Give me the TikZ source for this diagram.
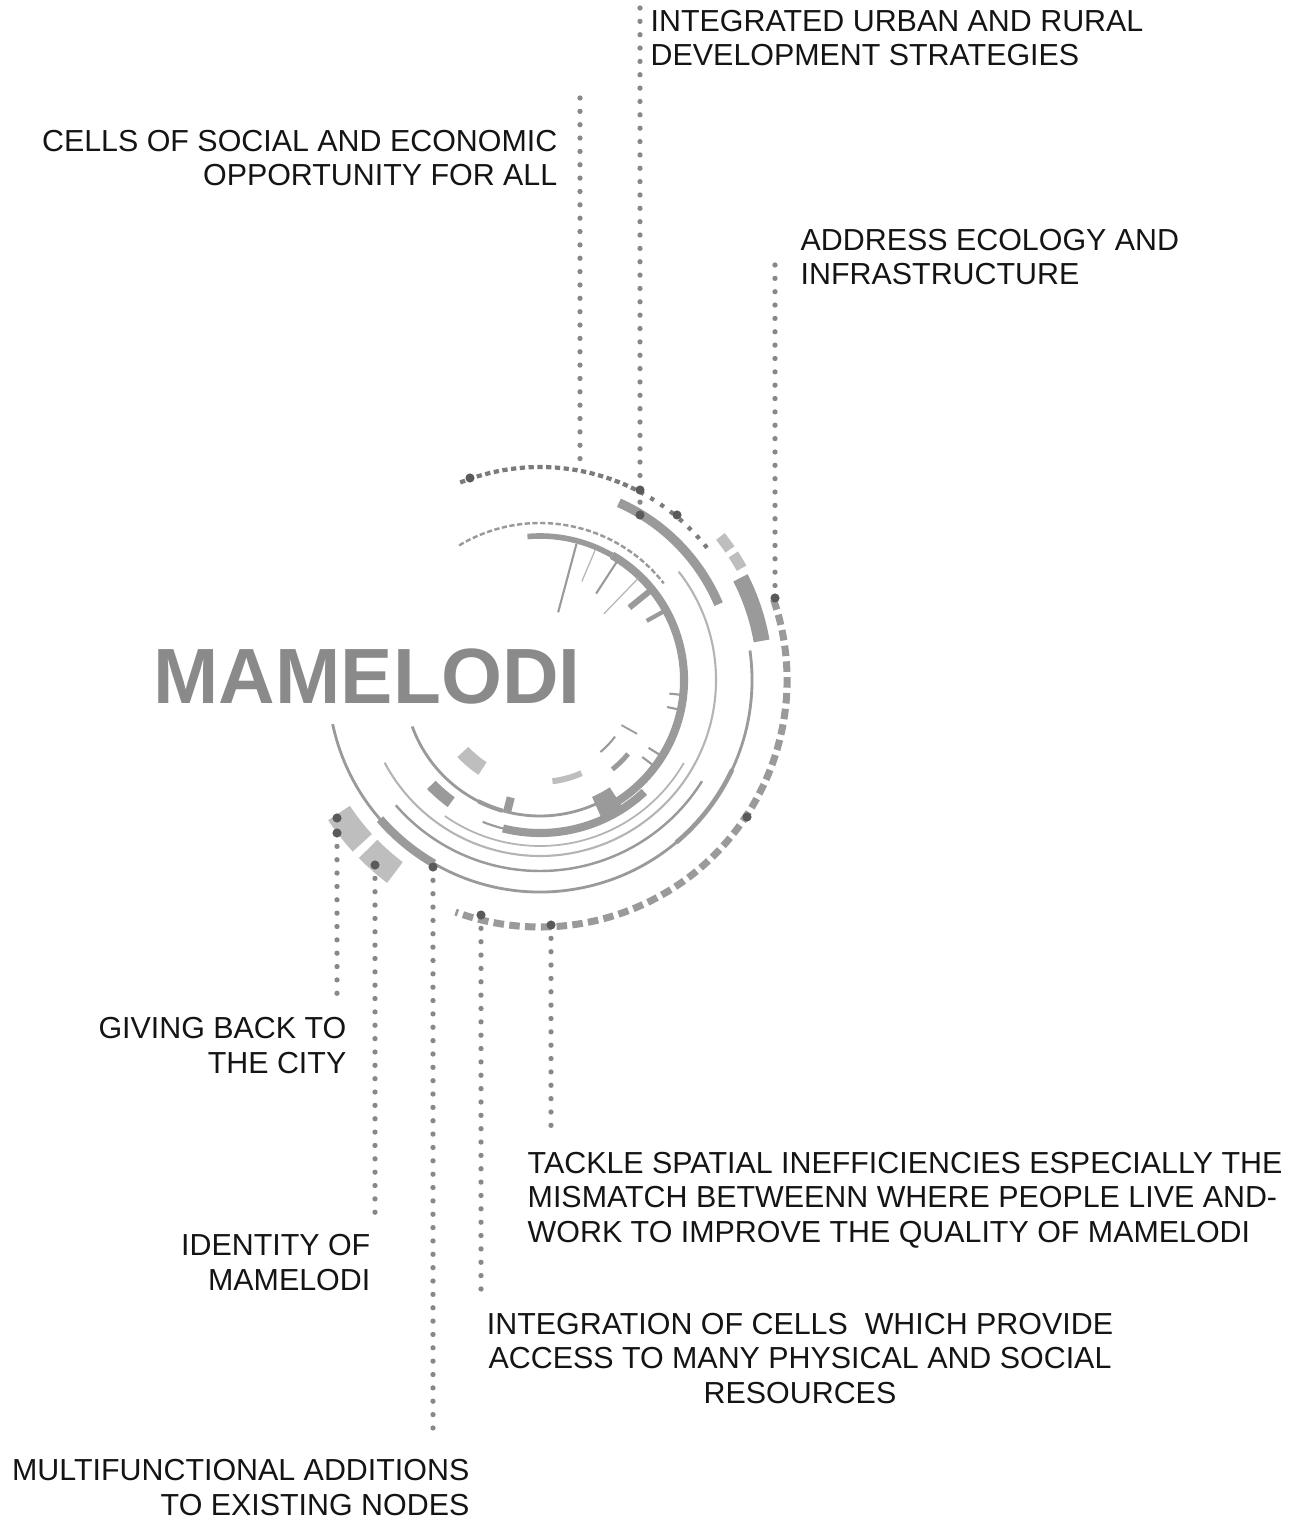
\documentclass[tikz,border=0pt]{standalone}
\usepackage{fontspec}
\setmainfont{Liberation Sans}
\usetikzlibrary{backgrounds}

\definecolor{ringgray}{HTML}{9A9A9A}
\definecolor{ringlight}{HTML}{B4B4B4}
\definecolor{blocklight}{HTML}{BEBEBE}
\definecolor{dotgray}{HTML}{888888}
\definecolor{dotdark}{HTML}{5A5A5A}
\definecolor{titlegray}{HTML}{8A8A8A}
\definecolor{textdark}{HTML}{141414}

\newcommand{\labelfont}{\fontsize{8.65}{9.7}\selectfont}
% annular block: [colour]{start angle}{end angle}{inner r}{outer r}
\newcommand{\ringblock}[5][ringgray]{%
  \fill[#1] (#2:#4) arc[start angle=#2,end angle=#3,radius=#4]
    -- (#3:#5) arc[start angle=#3,end angle=#2,radius=#5] -- cycle;}

\tikzset{
  ringthick/.style={draw=ringgray, line width=2.3pt},
  ringthin/.style={draw=ringlight, line width=0.5pt},
  leader/.style={draw=dotgray, line width=1.5pt, line cap=round, dash pattern=on 0pt off 3.8pt},
  hubdot/.style={circle, fill=dotdark, inner sep=0pt, minimum size=2.6pt},
  caption/.style={font=\labelfont, text=textdark, inner sep=0pt},
}

\begin{document}
\begin{tikzpicture}[x=0.1mm,y=0.1mm]
\useasboundingbox (0,0) rectangle (1304,-1521);

\begin{scope}[shift={(540,-680)}]
% inner ring with ticks
\draw[ringgray, line width=0.8pt] (-160:136) arc[start angle=-160,end angle=-64,radius=136];
\draw[ringgray, line width=1.2pt] (-117:136) arc[start angle=-117,end angle=-106,radius=136];
\draw[ringgray, line width=1.6pt] (95:144) arc[start angle=95,end angle=60,radius=144];
\draw[ringthick] (60:144) arc[start angle=60,end angle=-62,radius=144];
\ringblock{-66}{-57}{128}{150}
\foreach \a/\ri/\w in {75/70/0.6pt, 57/103/0.6pt, 39/115/1.7pt, 29/122/1.2pt,
    -6/130/0.6pt, -12/130/0.6pt, -32/128/0.6pt, -37/128/0.6pt}
  \draw[ringgray, line width=\w] (\a:\ri) -- (\a:141);
\foreach \a/\ri in {67/107, 46/92}
  \draw[ringlight, line width=0.35pt] (\a:\ri) -- (\a:141);
\draw[ringgray, line width=2.3pt] (-104:121) -- (-104:135);

% second ring
\draw[ringgray, line width=0.6pt] (-112:153) arc[start angle=-112,end angle=-104,radius=153];
\draw[ringthick] (-104:153) arc[start angle=-104,end angle=-47,radius=153];
\draw[ringgray, line width=0.7pt, dash pattern=on 1.5pt off 0.7pt] (121:157) arc[start angle=121,end angle=38,radius=157];

% thin rings
\draw[ringthin] (-125:166) arc[start angle=-125,end angle=-30,radius=166];
\draw[ringthin, line width=0.6pt] (38:176) arc[start angle=38,end angle=-152,radius=176];
\draw[ringgray, line width=0.7pt] (-139:191) arc[start angle=-139,end angle=-32,radius=191];
\draw[ringgray, line width=2.6pt] (66:194) arc[start angle=66,end angle=23,radius=194];

% big ring
\draw[ringgray, line width=0.8pt] (-168:212) arc[start angle=-168,end angle=8,radius=212];
\draw[ringgray, line width=2.4pt] (-139:212) arc[start angle=-139,end angle=-120,radius=212];
\draw[ringgray, line width=1.3pt] (-25:212) arc[start angle=-25,end angle=-50,radius=212];
\draw[dotdark!80, line width=1.2pt, dash pattern=on 1.5pt off 1pt] (112:213) arc[start angle=112,end angle=62,radius=213];
\draw[dotdark!80, line width=1.2pt, dash pattern=on 1.2pt off 2.2pt] (62:213) arc[start angle=62,end angle=38,radius=213];

% outer blocks and dashed ring
\ringblock[blocklight]{38.5}{34.5}{225}{236}
\ringblock[blocklight]{33}{29}{225}{236}
\ringblock{27}{10}{217}{233}
\draw[ringgray, line width=2pt, dash pattern=on 3pt off 1.5pt] (19:247) arc[start angle=19,end angle=-110,radius=247];
\ringblock[blocklight]{-146.5}{-137.5}{228}{254}
\ringblock[blocklight]{-135.5}{-127}{228}{254}

% small pieces inside
\ringblock[blocklight]{-137}{-123}{98}{113}
\ringblock{-136}{-126}{145}{157}
\ringblock[blocklight]{-83}{-66}{99}{105}
\draw[ringgray, line width=0.6pt] (-50:94) arc[start angle=-50,end angle=-37,radius=94];
\draw[ringgray, line width=0.5pt] (-29:93) -- (-29:111);
\draw[ringgray, line width=1.4pt] (-51:115) arc[start angle=-51,end angle=-40,radius=115];
\end{scope}

% leader ends
\coordinate (urbanEnd) at (640,-8);
\coordinate (cellsEnd) at (580,-98);
\coordinate (cellsFoot) at (580,-463);
\coordinate (ecologyEnd) at (775,-265);
\coordinate (givingEnd) at (337,-1000);
\coordinate (identityEnd) at (375,-1225);
\coordinate (multiEnd) at (433,-1440);
\coordinate (integrEnd) at (481,-1290);
\coordinate (tackleEnd) at (551,-1128);

% dots on the rings
\node[hubdot] (dotUrbanA) at (640,-490) {};
\node[hubdot] (dotUrban) at (640,-515) {};
\node[hubdot] (dotArcL) at (470,-478) {};
\node[hubdot] (dotArcR) at (677,-515) {};
\node[hubdot] (dotEcology) at (775,-598) {};
\node[hubdot] (dotDash) at (747,-817) {};
\node[hubdot] (dotTackle) at (551,-925) {};
\node[hubdot] (dotIntegr) at (481,-915) {};
\node[hubdot] (dotMulti) at (433,-867) {};
\node[hubdot] (dotIdentity) at (375,-865) {};
\node[hubdot] (dotGivingA) at (337,-818) {};
\node[hubdot] (dotGiving) at (337,-833) {};

\begin{scope}[on background layer]
\draw[leader] (urbanEnd) -- (dotUrban.center);
\draw[leader] (cellsEnd) -- (cellsFoot);
\draw[leader] (ecologyEnd) -- (dotEcology.center);
\draw[leader] (dotGiving.center) -- (givingEnd);
\draw[leader] (dotIdentity.center) -- (identityEnd);
\draw[leader] (dotMulti.center) -- (multiEnd);
\draw[leader] (dotIntegr.center) -- (integrEnd);
\draw[leader] (dotTackle.center) -- (tackleEnd);
\end{scope}

% texts (base = last line)
\node[inner sep=0pt, anchor=base west, font=\fontsize{22.3}{22.3}\selectfont\bfseries, text=titlegray] (mamelodi) at (153,-703) {MAMELODI};
\node[caption, anchor=base west, align=left] (urban) at (650,-66) {INTEGRATED URBAN AND RURAL\\DEVELOPMENT STRATEGIES};
\node[caption, anchor=base east, align=right] (cells) at (558,-186) {CELLS OF SOCIAL AND ECONOMIC\\OPPORTUNITY FOR ALL};
\node[caption, anchor=base west, align=left] (ecology) at (800,-285) {ADDRESS ECOLOGY AND\\INFRASTRUCTURE};
\node[caption, anchor=base east, align=right] (giving) at (347,-1073) {GIVING BACK TO\\THE CITY};
\node[caption, anchor=base east, align=right] (identity) at (371,-1290) {IDENTITY OF\\MAMELODI};
\node[caption, anchor=base west, align=left] (tackle) at (527,-1242) {TACKLE SPATIAL INEFFICIENCIES ESPECIALLY THE\\MISMATCH BETWEENN WHERE PEOPLE LIVE AND-\\WORK TO IMPROVE THE QUALITY OF MAMELODI};
\node[caption, anchor=base, align=center] (integration) at (800,-1403) {INTEGRATION OF CELLS\ \ WHICH PROVIDE\\ACCESS TO MANY PHYSICAL AND SOCIAL\\RESOURCES};
\node[caption, anchor=base east, align=right] (multi) at (470,-1515) {MULTIFUNCTIONAL ADDITIONS\\TO EXISTING NODES};
\end{tikzpicture}
\end{document}
